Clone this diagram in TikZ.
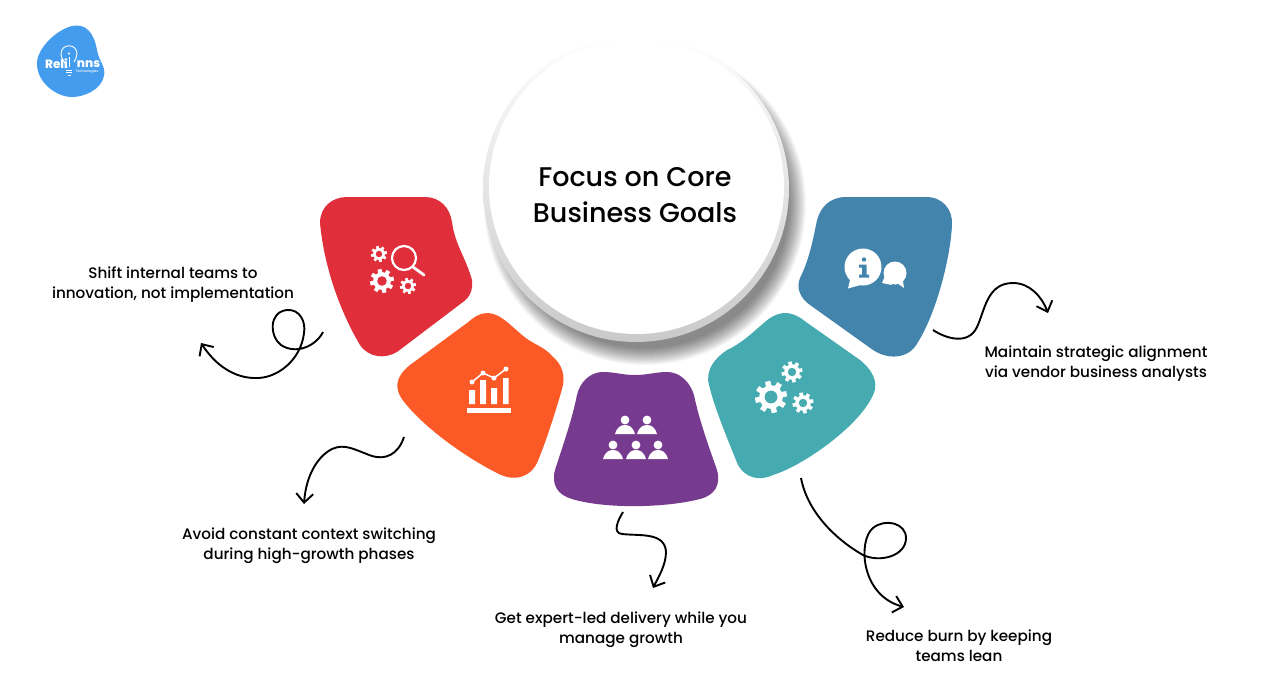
\documentclass[tikz,border=0pt]{standalone}
\usepackage{fontspec}
\setmainfont{Poppins}[UprightFont=* Medium]
\usetikzlibrary{arrows.meta}
\definecolor{cred}{HTML}{E02F3B}
\definecolor{corange}{HTML}{FB5A27}
\definecolor{cpurple}{HTML}{763A8E}
\definecolor{cteal}{HTML}{46ABB0}
\definecolor{cblue}{HTML}{4284AB}
\definecolor{clogo}{HTML}{439CEE}
\newcommand{\geargl}[4]{% x y r colour
  \begin{scope}[shift={(#1,#2)}]
    \fill[white] (0,0) circle ({#3*0.74});
    \foreach \ga in {0,45,...,315}{
      \fill[white,rotate=\ga+12] ({-#3*0.17},{-#3*1.0}) rectangle ({#3*0.17},0);
    }
    \fill[#4] (0,0) circle ({#3*0.4});
  \end{scope}}
\tikzset{
  blob/.style={draw=none},
  label/.style={align=center,font=\fontsize{15.2}{20}\selectfont,text=black,inner sep=0pt},
  title/.style={align=center,font=\fontsize{27}{36}\selectfont,text=black,inner sep=0pt},
  curve/.style={line width=1.9pt,black,-{Straight Barb[length=9pt,width=17pt,line width=1.9pt]}},
  iconline/.style={white,line width=2.4pt,line cap=round},
}
\begin{document}
\begin{tikzpicture}[x=1pt,y=-1pt]
\useasboundingbox (0,0) rectangle (1288,686);
\fill[white] (0,0) rectangle (1288,686);
% logo
\fill[clogo] (37,62) .. controls (38,48) and (56,30) .. (72,26) .. controls (86,23) and (94,33) .. (97,50) .. controls (99,62) and (106,66) .. (104,76) .. controls (101,90) and (84,97) .. (72,97) .. controls (56,97) and (36,82) .. (37,62) -- cycle;
\node[text=white,inner sep=0pt,font=\fontsize{12}{12}\selectfont\bfseries] (logoa) at (56.5,64) {Reli};
\node[text=white,inner sep=0pt,font=\fontsize{12}{12}\selectfont\bfseries] (logob) at (88.5,64) {nns};
\node[text=white,inner sep=0pt,font=\fontsize{3.4}{4}\selectfont] (logoc) at (87,72) {Technologies};
\draw[white,line width=.9pt] (67,68) .. controls (66,62) and (61,60) .. (61,54) .. controls (61,43) and (77,43) .. (77,54) .. controls (77,57) and (75,60) .. (74,62);
\fill[white] (69,53.5) circle (1.2);
\draw[white,line width=.9pt] (69,57) -- (69,67);
\draw[white,line width=.9pt] (66,70) -- (72,70) (66,72.5) -- (72,72.5) (67.5,75) -- (70.5,75);
% shadow and circle
\foreach \r in {161,160,...,144}{ \fill[black,opacity=.032] (645,204) circle (\r); }
\shade[top color=white,middle color=gray!24,bottom color=gray!42] (636,189) circle (153);
\node[circle,fill=white,minimum size=295pt,inner sep=0pt] (core) at (636.5,186.5) {};
\node[title] (coretxt) at (635,195) {Focus on Core\\Business Goals};
% blobs
\fill[cred,blob] (320,223) .. controls (320,207) and (332,197) .. (347,197) -- (425,197) .. controls (440,197) and (450,208) .. (452,222) .. controls (455,245) and (466,258) .. (472,280) .. controls (473,290) and (470,297) .. (463,302) -- (397,352) .. controls (385,359) and (369,358) .. (360,345) .. controls (345,320) and (325,275) .. (320,223) -- cycle;
\fill[corange,blob] (487,313) .. controls (500,313) and (510,325) .. (522,335) .. controls (532,344) and (545,347) .. (552,356) .. controls (562,364) and (566,376) .. (562,389) .. controls (556,410) and (546,442) .. (537,463) .. controls (531,476) and (515,483) .. (497,473) .. controls (465,457) and (425,428) .. (405,403) .. controls (394,390) and (394,378) .. (410,365) -- (467,323) .. controls (474,317) and (480,313) .. (487,313) -- cycle;
\fill[cpurple,blob] (603,372) .. controls (615,372) and (622,375) .. (635,375) .. controls (648,375) and (655,372) .. (667,372) .. controls (680,372) and (690,382) .. (694,395) .. controls (699,420) and (710,450) .. (717,470) .. controls (721,485) and (715,495) .. (700,499) .. controls (665,508) and (605,509) .. (572,499) .. controls (558,495) and (551,485) .. (555,470) .. controls (563,445) and (572,420) .. (577,395) .. controls (580,382) and (590,372) .. (603,372) -- cycle;
\fill[cteal,blob] (785,313) .. controls (793,313) and (800,317) .. (806,322) -- (860,360) .. controls (870,368) and (880,381) .. (873,395) .. controls (860,425) and (805,465) .. (773,475) .. controls (758,482) and (745,477) .. (738,465) .. controls (730,445) and (715,410) .. (709,385) .. controls (705,370) and (715,358) .. (727,350) .. controls (745,342) and (760,325) .. (770,318) .. controls (775,315) and (780,313) .. (785,313) -- cycle;
\fill[cblue,blob] (846,197) -- (926,197) .. controls (943,197) and (953,210) .. (952,225) .. controls (950,262) and (935,315) .. (918,342) .. controls (910,358) and (890,361) .. (873,350) -- (810,305) .. controls (800,298) and (796,288) .. (800,278) .. controls (808,262) and (812,245) .. (816,225) .. controls (819,207) and (830,197) .. (846,197) -- cycle;
% red icon
\geargl{379}{254}{8}{cred}
\geargl{382}{281}{12}{cred}
\geargl{408}{286}{8}{cred}
\draw[white,line width=2.2pt] (404,258) circle (12);
\draw[iconline,line width=2.8pt] (413,267) -- (424,275);
% chart icon
\fill[white] (467,408) rectangle (511,412.5);
\fill[white] (469,390) rectangle (475,404) (480,380) rectangle (486,404) (491,388) rectangle (497,404) (503,378) rectangle (508.5,404);
\draw[white,line width=1.5pt] (472,382) -- (483,373) -- (494,378) -- (506,369);
\fill[white] (472,382) circle (2.5) (483,373) circle (2.5) (494,378) circle (2.5) (506,369) circle (2.5);
% people icon
\foreach \px/\py in {625/420,647/420,613/445,636/445,658/445}{
  \fill[white] (\px,\py) circle (4.4);
  \fill[white] ({\px-10},{\py+14}) .. controls ({\px-8},{\py+7}) and ({\px-4},{\py+5}) .. (\px,{\py+5}) .. controls ({\px+4},{\py+5}) and ({\px+8},{\py+7}) .. ({\px+10},{\py+14}) -- cycle;
}
% gear icon
\geargl{792}{372}{10.5}{cteal}
\geargl{771}{397}{16}{cteal}
\geargl{803}{403}{10.5}{cteal}
% info icon
\fill[white] (863,267) circle (18.5);
\fill[white] (850,280) -- (848,288.5) -- (864,284) -- cycle;
\fill[white] (895,273) circle (11.5);
\fill[white] (897,283) -- (904,288) -- (902,274) -- cycle;
\fill[white] (885,276) -- (882,283) -- (892,285) -- cycle;
\fill[cblue] (864,259.5) circle (2.2);
\fill[cblue] (859,264.5) -- (866.5,264.5) -- (866.5,274.5) -- (869,274.5) -- (869,277.5) -- (859,277.5) -- (859,274.5) -- (862,274.5) -- (862,267.5) -- (859,267.5) -- cycle;
% labels
\node[label] (t1) at (173,285) {Shift internal teams to\\innovation, not implementation};
\node[label] (t2) at (309,546) {Avoid constant context switching\\during high-growth phases};
\node[label] (t3) at (621,630) {Get expert-led delivery while you\\manage growth};
\node[label] (t4) at (959,646) {Reduce burn by keeping\\teams lean};
\node[label] (t5) at (1096,364) {Maintain strategic alignment\\via vendor business analysts};
% connectors
\coordinate (c1s) at (323,332); \coordinate (c1e) at (201,343);
\coordinate (c2s) at (404,437); \coordinate (c2e) at (304,504);
\coordinate (c3s) at (623,512); \coordinate (c3e) at (653,588);
\coordinate (c4s) at (801,478); \coordinate (c4e) at (904,607);
\coordinate (c5s) at (933,330); \coordinate (c5e) at (1048,313);
\draw[curve] (c1s) .. controls (316,346) and (296,355) .. (281,345) .. controls (270,337) and (268,312) .. (287,310) .. controls (300,309) and (306,322) .. (304,333) .. controls (301,360) and (277,379) .. (255,378) .. controls (235,378) and (216,366) .. (c1e);
\draw[curve] (c2s) .. controls (398,455) and (385,460) .. (372,456) .. controls (355,450) and (345,443) .. (332,449) .. controls (318,456) and (306,475) .. (c2e);
\draw[curve] (c3s) .. controls (618,520) and (612,533) .. (622,534) .. controls (640,536) and (665,532) .. (666,552) .. controls (666,565) and (658,578) .. (c3e);
\draw[curve] (c4s) .. controls (808,515) and (840,542) .. (863,555) .. controls (880,563) and (906,556) .. (906,538) .. controls (906,523) and (885,518) .. (873,528) .. controls (858,540) and (860,595) .. (c4e);
\draw[curve] (c5s) .. controls (945,338) and (968,346) .. (977,327) .. controls (985,310) and (987,283) .. (1013,283) .. controls (1030,283) and (1042,297) .. (c5e);
\end{tikzpicture}
\end{document}
